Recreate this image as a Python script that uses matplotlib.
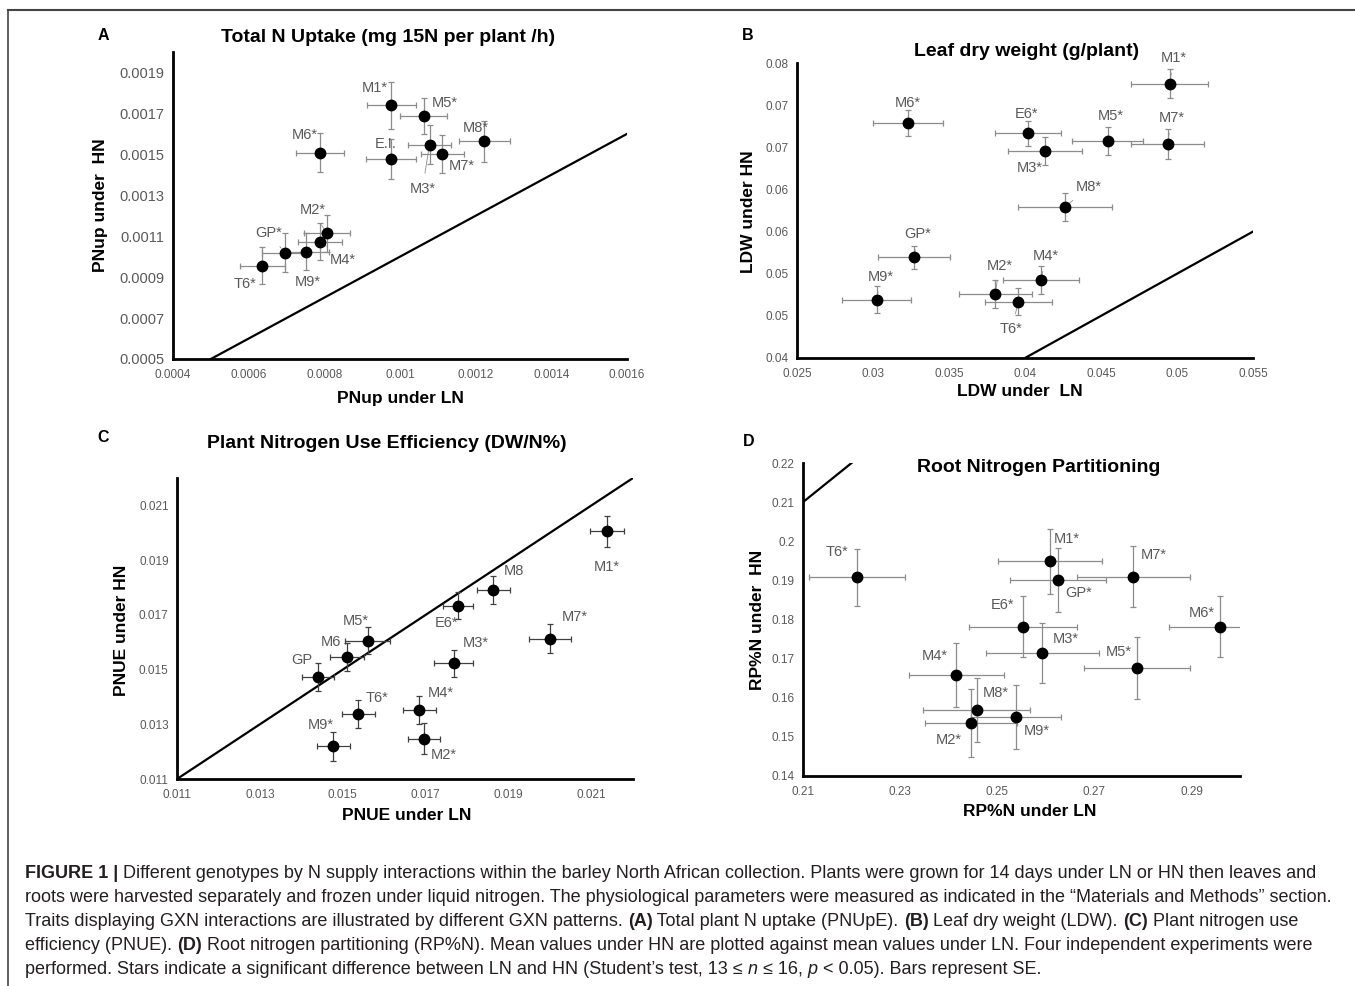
import numpy as np
import matplotlib
matplotlib.use("Agg")
import matplotlib.pyplot as plt
from matplotlib.lines import Line2D
from matplotlib.font_manager import FontProperties

plt.rcParams['font.family'] = ['Liberation Sans', 'DejaVu Sans']

# ---- data ----
a_names = ['M1*', 'M5*', 'M6*', 'E.I.', 'M3*', 'M7*', 'M8*', 'M2*', 'M4*', 'M9*', 'GP*', 'T6*']
a_ln = [0.000977, 0.001063, 0.000788, 0.000977, 0.001078, 0.001112, 0.001223, 0.000806, 0.000789, 0.000752, 0.000695, 0.000636]
a_hn = [0.00174, 0.001686, 0.001507, 0.001475, 0.001548, 0.0015, 0.001563, 0.001114, 0.001074, 0.001025, 0.00102, 0.000955]
a_ln_se = [0.000064, 0.000062, 0.000063, 0.000066, 0.000058, 0.000057, 0.000068, 0.000061, 0.000058, 0.00006, 0.00006, 0.00006]
a_hn_se = [0.000114, 0.000089, 0.000095, 0.0000975, 0.000093, 0.000093, 0.0001, 0.00009, 0.00009, 0.00009, 0.000095, 0.00009]

b_names = ['M1*', 'M6*', 'E6*', 'M3*', 'M5*', 'M7*', 'M8*', 'GP*', 'M9*', 'M2*', 'T6*', 'M4*']
b_ln = [0.04952, 0.03229, 0.04019, 0.04129, 0.04543, 0.04938, 0.04262, 0.03271, 0.03024, 0.03805, 0.03957, 0.04105]
b_hn = [0.07254, 0.06788, 0.06669, 0.06459, 0.0657, 0.06539, 0.05791, 0.05194, 0.04692, 0.04763, 0.04668, 0.04925]
b_ln_se = [0.00255, 0.00229, 0.00218, 0.00243, 0.00231, 0.00238, 0.0031, 0.00238, 0.00227, 0.00238, 0.00218, 0.00253]
b_hn_se = [0.00174, 0.0016, 0.00148, 0.00168, 0.00166, 0.00178, 0.00162, 0.00134, 0.00162, 0.00166, 0.00158, 0.00162]

c_names = ['M1*', 'M8', 'E6*', 'M7*', 'M3*', 'M5*', 'M6', 'GP', 'T6*', 'M4*', 'M2*', 'M9*']
c_ln = [0.02137, 0.01863, 0.01778, 0.0200, 0.01767, 0.0156, 0.0151, 0.0144, 0.01537, 0.01684, 0.01696, 0.01477]
c_hn = [0.02005, 0.01791, 0.01734, 0.01613, 0.01523, 0.01605, 0.01546, 0.01472, 0.01336, 0.01351, 0.01248, 0.01219]
c_ln_se = [0.00041, 0.0004, 0.00037, 0.0005, 0.00046, 0.00054, 0.00042, 0.00038, 0.0004, 0.0004, 0.00038, 0.0004]
c_hn_se = [0.00056, 0.00051, 0.00048, 0.00054, 0.0005, 0.0005, 0.0005, 0.00051, 0.00051, 0.00051, 0.00057, 0.00053]

d_names = ['T6*', 'M1*', 'GP*', 'M7*', 'E6*', 'M3*', 'M6*', 'M5*', 'M4*', 'M8*', 'M2*', 'M9*']
d_ln = [0.22116, 0.26086, 0.26248, 0.27804, 0.25528, 0.25932, 0.29587, 0.27884, 0.24156, 0.24574, 0.24464, 0.25389]
d_hn = [0.19081, 0.19489, 0.19013, 0.19098, 0.17821, 0.17149, 0.17821, 0.16757, 0.16587, 0.15694, 0.15353, 0.15506]
d_ln_se = [0.0099, 0.0108, 0.0099, 0.0116, 0.0111, 0.0116, 0.0105, 0.0109, 0.0098, 0.0111, 0.0095, 0.0092]
d_hn_se = [0.0073, 0.0083, 0.0081, 0.0077, 0.0079, 0.0077, 0.0078, 0.0079, 0.0082, 0.0082, 0.0086, 0.0082]

a_xticks = [0.0004, 0.0006, 0.0008, 0.001, 0.0012, 0.0014, 0.0016]
a_yticks = [0.0005, 0.0007, 0.0009, 0.0011, 0.0013, 0.0015, 0.0017, 0.0019]
b_xticks = [0.025, 0.03, 0.035, 0.04, 0.045, 0.05, 0.055]
b_yticks = [0.04, 0.045, 0.05, 0.055, 0.06, 0.065, 0.07, 0.075]
b_ylabels = ['0.04', '0.05', '0.05', '0.06', '0.06', '0.07', '0.07', '0.08']
c_ticks = [0.011, 0.013, 0.015, 0.017, 0.019, 0.021]
d_xticks = [0.21, 0.23, 0.25, 0.27, 0.29]
d_yticks = [0.14, 0.15, 0.16, 0.17, 0.18, 0.19, 0.2, 0.21, 0.22]

# label offsets in pixels (dx, dy up) and leader-line flags
a_off = [(-17, 17), (21, 13), (-15, 18), (-6, 15), (-7, -44), (19, -12), (-9, 13), (-14, 23), (23, -18), (2, -30), (-16, 20), (-17, -18)]
a_lead = [0, 0, 0, 0, 1, 0, 0, 1, 1, 0, 1, 0]
b_off = [(4, 26), (0, 20), (-1, 19), (-15, -17), (3, 25), (4, 26), (24, 20), (3, 23), (4, 23), (4, 28), (-7, -27), (5, 24)]
b_lead = [1, 0, 0, 1, 1, 1, 1, 1, 1, 1, 1, 1]
c_off = [(0, -36), (21, 19), (-12, -17), (25, 22), (22, 20), (-12, 20), (-16, 15), (-16, 17), (19, 16), (22, 17), (20, -16), (-13, 21)]
d_off = [(-20, 25), (17, 22), (21, -13), (20, 22), (-20, 22), (23, 14), (-18, 14), (-19, 16), (-21, 19), (19, 17), (-22, -17), (21, -14)]

W, H = 1355, 986
fig = plt.figure(figsize=(W / 100, H / 100), dpi=100)

TICK_COL = '#595959'
LAB_COL = '#595959'


def px_axes(l, t, r, b):
    return fig.add_axes([l / W, 1 - b / H, (r - l) / W, (b - t) / H])


def panel(ax, names, ln, hn, ln_se, hn_se, offs, leads, xlim, ylim, bar_col):
    ax.plot([min(xlim[0], ylim[0]), max(xlim[1], ylim[1])],
            [min(xlim[0], ylim[0]), max(xlim[1], ylim[1])], color='black', lw=1.6, zorder=1)
    ax.errorbar(ln, hn, xerr=ln_se, yerr=hn_se, fmt='o', color='black', ms=7.5,
                ecolor=bar_col, elinewidth=0.9, capsize=2.5, capthick=0.9, zorder=3)
    for i, name in enumerate(names):
        dx, dy = offs[i]
        if leads and leads[i]:
            ax.annotate(name, (ln[i], hn[i]), xytext=(dx, dy), textcoords='offset pixels',
                        ha='center', va='center', fontsize=10.5, color=LAB_COL,
                        arrowprops=dict(arrowstyle='-', color='#8c8c8c', lw=0.6, shrinkA=4, shrinkB=4))
        else:
            ax.annotate(name, (ln[i], hn[i]), xytext=(dx, dy), textcoords='offset pixels',
                        ha='center', va='center', fontsize=10.5, color=LAB_COL)
    ax.set_xlim(*xlim)
    ax.set_ylim(*ylim)
    for s in ['top', 'right']:
        ax.spines[s].set_visible(False)
    for s in ['left', 'bottom']:
        ax.spines[s].set_linewidth(2.0)
        ax.spines[s].set_color('black')
        ax.spines[s].set_zorder(4)
    ax.tick_params(length=0, colors=TICK_COL, labelsize=8.5)
    ax.tick_params(axis='x', pad=7)
    ax.tick_params(axis='y', pad=6)
    ax.patch.set_alpha(0)


def ftext(x, y, s, **kw):
    fig.text(x / W, 1 - y / H, s, **kw)


# ---- panel A ----
axA = px_axes(173, 52, 627, 359)
panel(axA, a_names, a_ln, a_hn, a_ln_se, a_hn_se, a_off, a_lead, (0.0004, 0.0016), (0.0005, 0.0020), '#8c8c8c')
axA.set_xticks(a_xticks)
axA.set_xticklabels([f'{v:g}' for v in a_xticks])
axA.set_yticks(a_yticks)
axA.set_yticklabels([f'{v:.4f}' for v in a_yticks])
axA.tick_params(axis='y', labelsize=10.5)

# ---- panel B ----
axB = px_axes(797, 63, 1253, 358)
panel(axB, b_names, b_ln, b_hn, b_ln_se, b_hn_se, b_off, b_lead, (0.025, 0.055), (0.04, 0.075), '#8c8c8c')
axB.set_xticks(b_xticks)
axB.set_xticklabels([f'{v:g}' for v in b_xticks])
axB.set_yticks(b_yticks)
axB.set_yticklabels(b_ylabels)

# ---- panel C ----
axC = px_axes(177, 478, 633, 779)
panel(axC, c_names, c_ln, c_hn, c_ln_se, c_hn_se, c_off, None, (0.011, 0.022), (0.011, 0.022), '#404040')
axC.set_xticks(c_ticks)
axC.set_xticklabels([f'{v:g}' for v in c_ticks])
axC.set_yticks(c_ticks)
axC.set_yticklabels([f'{v:g}' for v in c_ticks])

# ---- panel D ----
axD = px_axes(803, 463, 1240, 776)
panel(axD, d_names, d_ln, d_hn, d_ln_se, d_hn_se, d_off, None, (0.21, 0.30), (0.14, 0.22), '#8c8c8c')
axD.set_xticks(d_xticks)
axD.set_xticklabels([f'{v:g}' for v in d_xticks])
axD.set_yticks(d_yticks)
axD.set_yticklabels([f'{v:g}' for v in d_yticks])

# ---- titles, letters and axis labels ----
tkw = dict(fontsize=14, fontweight='bold', ha='center', va='center')
ftext(388, 37, 'Total N Uptake (mg 15N per plant /h)', **tkw)
ftext(1027, 52, 'Leaf dry weight (g/plant)', **tkw)
ftext(387, 443, 'Plant Nitrogen Use Efficiency (DW/N%)', **tkw)
ftext(1039, 468, 'Root Nitrogen Partitioning', **tkw)

lkw = dict(fontsize=11.5, fontweight='bold', ha='center', va='center')
ftext(103, 35, 'A', **lkw)
ftext(748, 36, 'B', **lkw)
ftext(103, 437, 'C', **lkw)
ftext(749, 441, 'D', **lkw)

xkw = dict(fontsize=12.5, fontweight='bold', ha='center', va='center')
ftext(400, 398, 'PNup under LN', **xkw)
ftext(100, 205, 'PNup under  HN', rotation=90, **xkw)
ftext(1020, 392, 'LDW under  LN', **xkw)
ftext(749, 212, 'LDW under HN', rotation=90, **xkw)
ftext(407, 815, 'PNUE under LN', **xkw)
ftext(121, 630, 'PNUE under HN', rotation=90, **xkw)
ftext(1030, 812, 'RP%N under LN', **xkw)
ftext(757, 620, 'RP%N under  HN', rotation=90, **xkw)

# ---- frame lines ----
fig.add_artist(Line2D([8 / W, 1], [1 - 10 / H, 1 - 10 / H], color='#444444', lw=1.5, transform=fig.transFigure))
fig.add_artist(Line2D([8 / W, 8 / W], [1 - 10 / H, 0], color='#444444', lw=1.2, transform=fig.transFigure))

# ---- caption ----
renderer = fig.canvas.get_renderer()
CAP_COL = '#231f20'
cap_family = ['Liberation Sans', 'DejaVu Sans']


def seg_width(s, fp):
    w1 = renderer.get_text_width_height_descent('x' + s + 'x', fp, ismath=False)[0]
    w0 = renderer.get_text_width_height_descent('xx', fp, ismath=False)[0]
    return w1 - w0


def props(size, style):
    return FontProperties(family=cap_family, size=size,
                          weight='bold' if 'b' in style else 'normal',
                          style='italic' if 'i' in style else 'normal')


cap_lines = [
    [('FIGURE 1 |', 'b'), (' Different genotypes by N supply interactions within the barley North African collection. Plants were grown for 14 days under LN or HN then leaves and', '')],
    [('roots were harvested separately and frozen under liquid nitrogen. The physiological parameters were measured as indicated in the \u201cMaterials and Methods\u201d section.', '')],
    [('Traits displaying GXN interactions are illustrated by different GXN patterns. ', ''), ('(A)', 'b'), (' Total plant N uptake (PNUpE). ', ''), ('(B)', 'b'),
     (' Leaf dry weight (LDW). ', ''), ('(C)', 'b'), (' Plant nitrogen use', '')],
    [('efficiency (PNUE). ', ''), ('(D)', 'b'), (' Root nitrogen partitioning (RP%N). Mean values under HN are plotted against mean values under LN. Four independent experiments were', '')],
    [('performed. Stars indicate a significant difference between LN and HN (Student\u2019s test, 13 \u2264 ', ''), ('n', 'i'), (' \u2264 16, ', ''), ('p', 'i'),
     (' < 0.05). Bars represent SE.', '')],
]

# fit the font size so the full second line spans the caption width
base = 10.0
w_base = sum(seg_width(s, props(base, st)) for s, st in cap_lines[1])
cap_fs = base * (1310 * 100 / 72 * 72 / 100) / w_base

baselines = [878, 902, 926, 950, 974]
for line, yb in zip(cap_lines, baselines):
    x = 25.0
    for s, st in line:
        fp = props(cap_fs, st)
        fig.text(x / W, 1 - yb / H, s, fontproperties=fp, color=CAP_COL, va='baseline', ha='left')
        x += seg_width(s, fp)

fig.savefig('out.png', dpi=100)
